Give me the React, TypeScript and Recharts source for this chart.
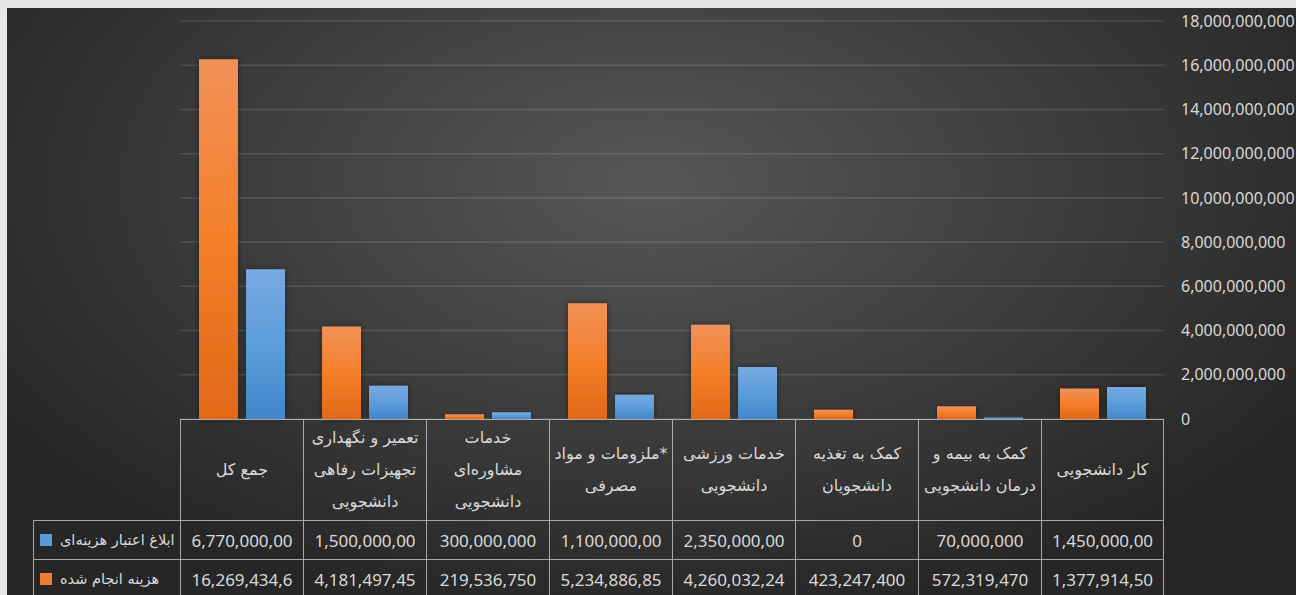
import { Bar, BarChart, CartesianGrid, XAxis, YAxis } from 'recharts'

// categories, left to right as they appear under the bars
const categories = [
  'جمع کل',
  'تعمیر و نگهداری\nتجهیزات رفاهی\nدانشجویی',
  'خدمات\nمشاوره‌ای\nدانشجویی',
  '*ملزومات و مواد\nمصرفی',
  'خدمات ورزشی\nدانشجویی',
  'کمک به تغذیه\nدانشجویان',
  'کمک به بیمه و\nدرمان دانشجویی',
  'کار دانشجویی',
]

const seriesNames = ['ابلاغ اعتبار هزینه‌ای', 'هزینه انجام شده']

// ابلاغ اعتبار (blue)
const allocated = [6770000000, 1500000000, 300000000, 1100000000, 2350000000, 0, 70000000, 1450000000]
// هزینه انجام شده (orange)
const spent = [16269434600, 4181497450, 219536750, 5234886850, 4260032240, 423247400, 572319470, 1377914500]

const yTicks = [0, 2e9, 4e9, 6e9, 8e9, 10e9, 12e9, 14e9, 16e9, 18e9]

const data = categories.map((name, i) => ({ name, allocated: allocated[i], spent: spent[i] }))

const BLUE = '#5b9bd5'
const ORANGE = '#ed7d31'
const TEXT = '#d9d9d9'
const LINE = 'rgba(210,210,210,0.75)'
const NUM_FONT = '"Noto Sans", "DejaVu Sans", sans-serif'
const FA_FONT = '"DejaVu Sans", sans-serif'

const fmt = (v: number) => v.toLocaleString('en-US')
// the table cells are narrow, so long numbers only show their first 12 characters
const cellText = (v: number) => fmt(v).slice(0, 12)

const LEG_W = 147
const COL_W = 123
const ROW_H = [101, 39, 39]

function Cell({ col, row, children, border = true, style = {} }: any) {
  const left = col === 0 ? 0 : LEG_W + (col - 1) * COL_W
  const top = ROW_H.slice(0, row).reduce((a, b) => a + b, 0)
  return (
    <div
      style={{
        position: 'absolute',
        left,
        top,
        width: col === 0 ? LEG_W : COL_W,
        height: ROW_H[row],
        boxSizing: 'border-box',
        borderTop: border ? `1px solid ${LINE}` : 'none',
        borderLeft: border ? `1px solid ${LINE}` : 'none',
        borderRight: border && col === 8 ? `1px solid ${LINE}` : 'none',
        color: TEXT,
        overflow: 'hidden',
        display: 'flex',
        alignItems: 'center',
        ...style,
      }}
    >
      {children}
    </div>
  )
}

function DataTable() {
  const rows = [allocated, spent]
  const colors = [BLUE, ORANGE]
  return (
    <div style={{ position: 'absolute', left: 26, top: 411, width: LEG_W + 8 * COL_W, height: 179 }}>
      {categories.map((c, i) => (
        <Cell key={'h' + i} col={i + 1} row={0} style={{ justifyContent: 'center' }}>
          <div
            style={{
              direction: 'rtl',
              whiteSpace: 'pre-line',
              textAlign: 'center',
              fontFamily: FA_FONT,
              fontSize: 16,
              lineHeight: '32px',
              width: '100%',
            }}
          >
            {c}
          </div>
        </Cell>
      ))}
      {rows.map((vals, r) => (
        <div key={'r' + r}>
          <Cell col={0} row={r + 1}>
            <div style={{ width: 12, height: 12, background: colors[r], marginLeft: 6, marginRight: 8, flexShrink: 0 }} />
            <div style={{ direction: 'rtl', fontFamily: FA_FONT, fontSize: 14.5, whiteSpace: 'nowrap' }}>
              {seriesNames[r]}
            </div>
          </Cell>
          {vals.map((v, i) => (
            <Cell key={i} col={i + 1} row={r + 1} style={{ justifyContent: 'center' }}>
              <div style={{ whiteSpace: 'nowrap', fontFamily: NUM_FONT, fontSize: 17 }}>{cellText(v)}</div>
            </Cell>
          ))}
        </div>
      ))}
    </div>
  )
}

export default function App() {
  return (
    <div style={{ position: 'fixed', inset: 0, background: '#e6e7e9', overflow: 'hidden' }}>
      <div
        style={{
          position: 'absolute',
          left: 7,
          top: 8,
          width: 1289,
          height: 587,
          background: 'radial-gradient(ellipse 60% 75% at 50% 30%, #575757 0%, #3c3c3c 55%, #262626 100%)',
          overflow: 'hidden',
        }}
      >
        <BarChart
          width={1289}
          height={431}
          data={data}
          margin={{ top: 13, right: 0, left: 173, bottom: 20 }}
          barGap={8}
          barSize={39}
        >
          <defs>
            <linearGradient id="gOrange" x1="0" y1="0" x2="0" y2="1">
              <stop offset="0%" stopColor="#f19158" />
              <stop offset="50%" stopColor="#f47f2a" />
              <stop offset="100%" stopColor="#e26818" />
            </linearGradient>
            <linearGradient id="gBlue" x1="0" y1="0" x2="0" y2="1">
              <stop offset="0%" stopColor="#78a9e0" />
              <stop offset="50%" stopColor="#5d9ddc" />
              <stop offset="100%" stopColor="#4386c8" />
            </linearGradient>
            <filter id="shadow" x="-30%" y="-10%" width="160%" height="120%">
              <feDropShadow dx="0" dy="0" stdDeviation="3" floodColor="#000" floodOpacity="0.45" />
            </filter>
          </defs>
          <CartesianGrid vertical={false} stroke="rgba(255,255,255,0.13)" strokeWidth={1.5} />
          <XAxis dataKey="name" hide />
          <YAxis
            orientation="right"
            width={132}
            domain={[0, 18e9]}
            ticks={yTicks}
            interval={0}
            tickFormatter={fmt}
            axisLine={false}
            tickLine={false}
            tickSize={0}
            tickMargin={17}
            tick={{ fill: TEXT, fontSize: 16, fontFamily: NUM_FONT }}
          />
          <Bar dataKey="spent" name={seriesNames[1]} fill="url(#gOrange)" filter="url(#shadow)" isAnimationActive={false} />
          <Bar dataKey="allocated" name={seriesNames[0]} fill="url(#gBlue)" filter="url(#shadow)" isAnimationActive={false} />
        </BarChart>
        <DataTable />
      </div>
    </div>
  )
}
